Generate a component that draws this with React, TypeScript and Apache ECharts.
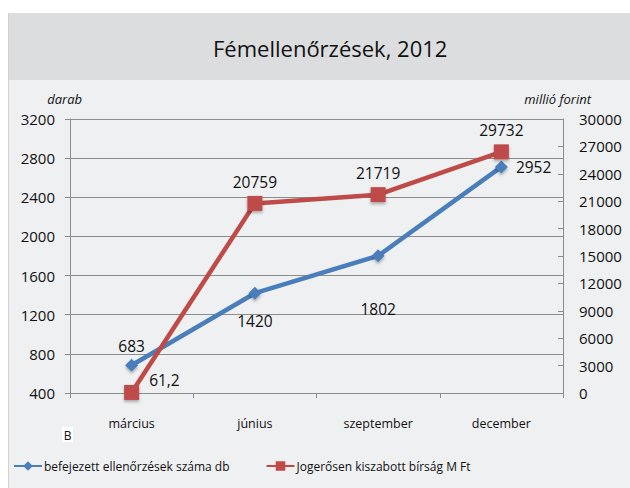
import React, { useEffect, useRef } from "react";
import * as echarts from "echarts";

const categories = ["március", "június", "szeptember", "december"];
const inspections = [683, 1420, 1802, 2710];
const inspectionLabels = ["683", "1420", "1802", "2952"];
const fines = [61.2, 20759, 21719, 26400];
const fineLabels = ["61,2", "20759", "21719", "29732"];
const inspectionLabelPos = ["top", "bottom", "bottom", "right"];
const fineLabelPos = ["right", "top", "top", "top"];
const inspectionLabelDist = [5, 13, 39, 8];
const fineLabelOffset = [[0, -12], [0, 0], [0, 0], [0, 0]];

const FONT = "'Open Sans', 'DejaVu Sans', sans-serif";

export default function App() {
  const ref = useRef<HTMLDivElement>(null);
  useEffect(() => {
    const chart = echarts.init(ref.current!, null, { renderer: "svg" });
    chart.setOption({
      animation: false,
      backgroundColor: "#ffffff",
      title: {
        text: "Fémellenőrzések, 2012",
        left: 208,
        top: 32,
        textStyle: { fontFamily: FONT, fontSize: 22, fontWeight: "normal", color: "#111" },
      },
      graphic: [
        { type: "rect", z: -10, silent: true, shape: { x: 8, y: 13, width: 622, height: 67 }, style: { fill: "#dcdddf" } },
        { type: "rect", z: -10, silent: true, shape: { x: 8, y: 80, width: 622, height: 408 }, style: { fill: "#eef0f2" } },
        { type: "line", z: -9, silent: true, shape: { x1: 8.5, y1: 13, x2: 8.5, y2: 488 }, style: { stroke: "#cfd1d3", lineWidth: 1 } },
        { type: "rect", z: 5, silent: true, shape: { x: 62, y: 427, width: 11, height: 15 }, style: { fill: "#ffffff" } },
        { type: "text", z: 6, silent: true, x: 67.5, y: 435, style: { text: "B", fontFamily: FONT, fontSize: 12, fill: "#111", align: "center", verticalAlign: "middle" } },
      ],
      legend: {
        left: 8,
        top: 455,
        itemWidth: 28,
        itemHeight: 12,
        itemGap: 36,
        textStyle: { fontFamily: FONT, fontSize: 12, color: "#111", padding: [0, 0, 0, -3] },
        data: ["befejezett ellenőrzések száma db", "Jogerősen kiszabott bírság M Ft"],
      },
      grid: { left: 70, right: 67, top: 119, bottom: 95 },
      xAxis: {
        type: "category",
        data: categories,
        boundaryGap: true,
        axisLine: { lineStyle: { color: "#8c8c8c" } },
        axisTick: { show: true, length: 5, lineStyle: { color: "#8c8c8c" } },
        axisLabel: { fontFamily: FONT, fontSize: 12.5, color: "#111", margin: 24 },
      },
      yAxis: [
        {
          type: "value",
          min: 400,
          max: 3200,
          interval: 400,
          name: "darab",
          nameLocation: "end",
          nameGap: 14,
          nameTextStyle: { fontFamily: FONT, fontStyle: "italic", fontSize: 13, color: "#111", align: "right", padding: [0, -12, 0, 0] },
          axisLine: { show: true, lineStyle: { color: "#8c8c8c" } },
          axisTick: { show: true, length: 5, lineStyle: { color: "#8c8c8c" } },
          axisLabel: { fontFamily: FONT, fontSize: 15, color: "#111", margin: 15, formatter: (v: number) => String(v) },
          splitLine: { lineStyle: { color: "#8c8c8c" } },
        },
        {
          type: "value",
          min: 0,
          max: 30000,
          interval: 3000,
          name: "millió forint",
          nameLocation: "end",
          nameGap: 14,
          nameTextStyle: { fontFamily: FONT, fontStyle: "italic", fontSize: 13, color: "#111", align: "right", padding: [0, -28, 0, 0] },
          axisLine: { show: true, lineStyle: { color: "#8c8c8c" } },
          axisTick: { show: true, length: 5, inside: true, lineStyle: { color: "#8c8c8c" } },
          axisLabel: { fontFamily: FONT, fontSize: 15, color: "#111", margin: 16, formatter: (v: number) => String(v) },
          splitLine: { show: false },
        },
      ],
      series: [
        {
          name: "befejezett ellenőrzések száma db",
          type: "line",
          yAxisIndex: 0,
          data: inspections.map((v, i) => ({
            value: v,
            label: { position: inspectionLabelPos[i], distance: inspectionLabelDist[i] },
          })),
          color: "#4a7ebb",
          lineStyle: { width: 4.5, color: "#4a7ebb" },
          symbol: "diamond",
          symbolSize: 13,
          itemStyle: { color: "#4a7ebb", shadowColor: "rgba(0,0,0,0.3)", shadowBlur: 3, shadowOffsetY: 2 },
          label: {
            show: true,
            fontFamily: FONT,
            fontSize: 15.5,
            color: "#111",
            formatter: (p: any) => inspectionLabels[p.dataIndex],
          },
          z: 3,
        },
        {
          name: "Jogerősen kiszabott bírság M Ft",
          type: "line",
          yAxisIndex: 1,
          data: fines.map((v, i) => ({
            value: v,
            label: { position: fineLabelPos[i], distance: i === 0 ? 10 : 6, offset: fineLabelOffset[i] },
          })),
          color: "#be4b48",
          lineStyle: { width: 4.5, color: "#be4b48" },
          symbol: "rect",
          symbolSize: 15,
          itemStyle: { color: "#be4b48", shadowColor: "rgba(0,0,0,0.3)", shadowBlur: 3, shadowOffsetY: 2 },
          label: {
            show: true,
            fontFamily: FONT,
            fontSize: 15.5,
            color: "#111",
            formatter: (p: any) => fineLabels[p.dataIndex],
          },
          z: 4,
        },
      ],
    });
    return () => chart.dispose();
  }, []);
  return <div ref={ref} style={{ position: "fixed", left: 0, top: 0, width: 630, height: 488 }} />;
}
